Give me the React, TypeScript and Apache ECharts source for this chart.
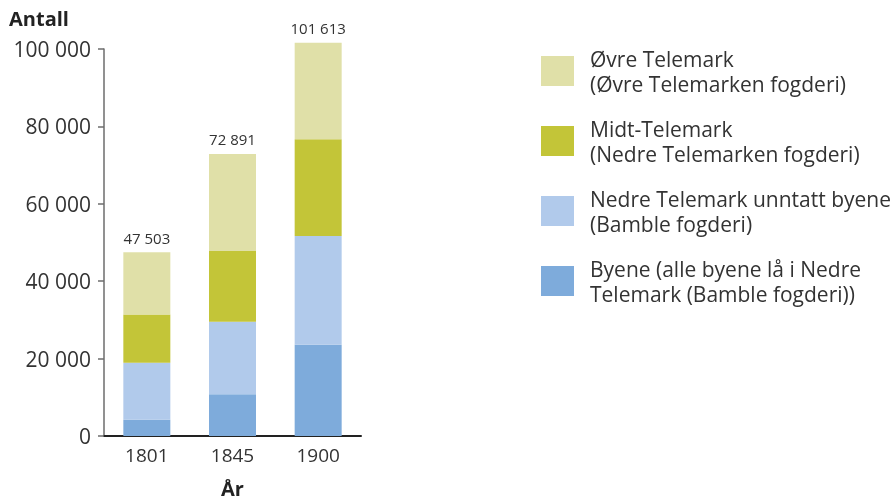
import React, { useEffect, useRef } from "react";
import * as echarts from "echarts";

const years = ["1801", "1845", "1900"];
const seriesNames = [
  "Byene (alle byene lå i Nedre\nTelemark (Bamble fogderi))",
  "Nedre Telemark unntatt byene\n(Bamble fogderi)",
  "Midt-Telemark\n(Nedre Telemarken fogderi)",
  "Øvre Telemark\n(Øvre Telemarken fogderi)",
];
const byene = [4200, 10800, 23600];
const nedre = [14700, 18700, 28100];
const midt = [12500, 18300, 25000];
const ovre = [16103, 25091, 24913];
const colors = ["#7eabdb", "#b1caeb", "#c3c538", "#e0e0a8"];
const yTicks = { min: 0, max: 100000, interval: 20000 };

const fmt = (v: number) => String(v).replace(/\B(?=(\d{3})+(?!\d))/g, " ");

export default function App() {
  const ref = useRef<HTMLDivElement>(null);
  useEffect(() => {
    if (!ref.current) return;
    const chart = echarts.init(ref.current, null, { renderer: "svg" });
    const all = [byene, nedre, midt, ovre];
    const totals = years.map((_, i) => all.reduce((s, arr) => s + arr[i], 0));
    const font = "'Open Sans', sans-serif";
    chart.setOption({
      animation: false,
      textStyle: { fontFamily: font },
      title: {
        text: "Antall",
        left: 9,
        top: 8,
        padding: 0,
        textStyle: { fontSize: 20, fontWeight: "bold", color: "#222", fontFamily: font },
      },
      legend: {
        orient: "vertical",
        left: 541,
        top: 46,
        padding: 0,
        itemWidth: 33,
        itemHeight: 30,
        itemGap: 20,
        icon: "rect",
        selectedMode: false,
        data: [seriesNames[3], seriesNames[2], seriesNames[1], seriesNames[0]],
        textStyle: {
          fontSize: 21,
          lineHeight: 25,
          color: "#333",
          fontFamily: font,
          padding: [0, 0, 0, 11],
        },
      },
      grid: { left: 104, right: 533, top: 49, bottom: 64, containLabel: false },
      xAxis: {
        type: "category",
        data: years,
        axisLine: { lineStyle: { color: "#222", width: 2 } },
        axisTick: { show: false },
        axisLabel: { fontSize: 19, color: "#333", margin: 9, fontFamily: font },
        name: "År",
        nameLocation: "middle",
        nameGap: 42,
        nameTextStyle: { fontSize: 20, fontWeight: "bold", color: "#222", fontFamily: font },
      },
      yAxis: {
        type: "value",
        min: yTicks.min,
        max: yTicks.max,
        interval: yTicks.interval,
        axisLine: { show: true, lineStyle: { color: "#6d6d6d", width: 1.5 } },
        axisTick: { show: true, length: 6, lineStyle: { color: "#6d6d6d", width: 1.5 } },
        splitLine: { show: false },
        axisLabel: {
          fontSize: 21,
          color: "#333",
          margin: 13,
          fontFamily: font,
          formatter: (v: number) => fmt(v),
        },
      },
      series: all.map((arr, k) => ({
        type: "bar",
        name: seriesNames[k],
        stack: "total",
        data: arr,
        barWidth: 47,
        clip: false,
        itemStyle: { color: colors[k] },
        emphasis: { disabled: true },
        label:
          k === 3
            ? {
                show: true,
                position: "top",
                distance: 7,
                fontSize: 15,
                color: "#333",
                fontFamily: font,
                formatter: (p: any) => fmt(totals[p.dataIndex]),
              }
            : { show: false },
      })),
    });
    return () => chart.dispose();
  }, []);
  return (
    <div
      ref={ref}
      style={{ position: "fixed", left: 0, top: 0, width: 894, height: 503 }}
    />
  );
}
